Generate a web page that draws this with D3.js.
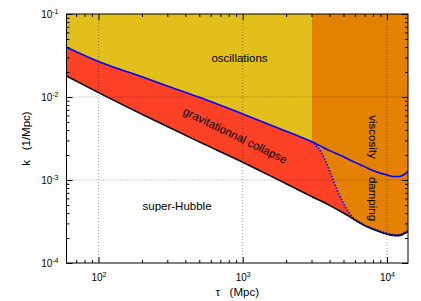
<!DOCTYPE html>
<html>
<head>
<meta charset="utf-8">
<script src="https://cdn.jsdelivr.net/npm/d3@7"></script>
<style>
body { margin: 0; background: #fff; }
svg { display: block; }
text { white-space: pre; }
</style>
</head>
<body>
<svg id="chart" width="421" height="301"></svg>
<script>
// Conformal time grid (Mpc)
var tau = [60, 100, 200, 300, 500, 1000, 2000, 2500, 3000, 3500, 4000, 5000, 6000, 7000, 8000, 9000, 10000, 11000, 12000, 13000, 14000];

// Hubble scale k = aH (black)
var kHubble = [0.0179, 0.0113, 0.0062, 0.0044, 0.00288, 0.00164, 0.00090, 0.000743, 0.000632, 0.000558, 0.000495, 0.000400, 0.000330, 0.000283, 0.000255, 0.000236, 0.000222, 0.000215, 0.000214, 0.000223, 0.000240];

// Jeans scale (blue solid)
var kJeans = [0.0397, 0.0267, 0.0175, 0.0136, 0.0099, 0.00624, 0.00387, 0.00332, 0.00291, 0.00254, 0.00226, 0.00191, 0.00163, 0.00145, 0.00130, 0.00121, 0.00115, 0.00110, 0.00110, 0.00115, 0.00126];

// Damping scale after decoupling (blue dotted)
var tauDamp = [3000, 3360, 3730, 4150, 4620, 5140, 5870, 6880, 8530, 10260, 11730, 14000];
var kDamp = [0.00291, 0.00241, 0.00174, 0.00110, 0.000692, 0.000477, 0.000346, 0.000287, 0.000250, 0.000226, 0.000218, 0.000245];

var tauDec = 3000;

// Ticks
var xMajor = [100, 1000, 10000];
var yMajor = [1e-4, 1e-3, 1e-2, 1e-1];
var xMinor = [70, 80, 90, 200, 300, 400, 500, 600, 700, 800, 900, 2000, 3000, 4000, 5000, 6000, 7000, 8000, 9000];
var yMinor = [];
[1e-4, 1e-3, 1e-2].forEach(function(d) {
    for (var m = 2; m <= 9; m++) yMinor.push(m * d);
});

var colors = {
    oscillations: "#e2bf1b",
    damping: "#e48100",
    collapse: "#fd4127"
};
var font = "'Liberation Sans', Arial, Helvetica, sans-serif";

// Layout
var svg = d3.select("#chart");
var pLeft = 66.5, pRight = 408, pTop = 14, pBottom = 263;

var x = d3.scaleLog().domain([60, 14000]).range([pLeft, pRight]);
var y = d3.scaleLog().domain([1e-4, 1e-1]).range([pBottom, pTop]);

svg.append("defs").append("clipPath").attr("id", "plot")
    .append("rect")
    .attr("x", pLeft).attr("y", pTop)
    .attr("width", pRight - pLeft).attr("height", pBottom - pTop);

var plot = svg.append("g").attr("clip-path", "url(#plot)");

// Background regions
plot.append("rect")
    .attr("x", pLeft).attr("y", pTop)
    .attr("width", x(tauDec) - pLeft).attr("height", pBottom - pTop)
    .attr("fill", colors.oscillations);

plot.append("rect")
    .attr("x", x(tauDec)).attr("y", pTop)
    .attr("width", pRight - x(tauDec)).attr("height", pBottom - pTop)
    .attr("fill", colors.damping);

var hubblePts = tau.map(function(t, i) { return [t, kHubble[i]]; });
var jeansPts = tau.map(function(t, i) { return [t, kJeans[i]]; });
var dampPts = tauDamp.map(function(t, i) { return [t, kDamp[i]]; });
var upperPts = jeansPts.filter(function(p) { return p[0] < tauDec; }).concat(dampPts);

var area = d3.area()
    .x(function(d) { return x(d[0]); })
    .y0(pBottom)
    .y1(function(d) { return y(d[1]); })
    .curve(d3.curveMonotoneX);

// collapse region under Jeans / damping scale
plot.append("path").attr("d", area(upperPts)).attr("fill", colors.collapse);
// super-Hubble region
plot.append("path").attr("d", area(hubblePts)).attr("fill", "#fff");

// Grid
plot.selectAll(".gx").data(xMajor).enter().append("line")
    .attr("x1", function(d) { return x(d); }).attr("x2", function(d) { return x(d); })
    .attr("y1", pTop).attr("y2", pBottom)
    .attr("stroke", "rgba(0,0,0,0.38)").attr("stroke-width", 1)
    .attr("stroke-dasharray", "1,2");

plot.selectAll(".gy").data([1e-3, 1e-2]).enter().append("line")
    .attr("x1", pLeft).attr("x2", pRight)
    .attr("y1", function(d) { return y(d); }).attr("y2", function(d) { return y(d); })
    .attr("stroke", "rgba(0,0,0,0.38)").attr("stroke-width", 1)
    .attr("stroke-dasharray", "1,2");

// Curves
var line = d3.line()
    .x(function(d) { return x(d[0]); })
    .y(function(d) { return y(d[1]); })
    .curve(d3.curveMonotoneX);

plot.append("path").attr("d", line(hubblePts))
    .attr("fill", "none").attr("stroke", "#000").attr("stroke-width", 1.6);

plot.append("path").attr("d", line(dampPts))
    .attr("fill", "none").attr("stroke", "#0000ff").attr("stroke-width", 1.6)
    .attr("stroke-dasharray", "1.5,1.6");

plot.append("path").attr("d", line(jeansPts))
    .attr("fill", "none").attr("stroke", "#0000ff").attr("stroke-width", 1.6);

// Region labels
function label(txt, px, py, anchor, rot) {
    svg.append("text")
        .attr("transform", "translate(" + px + "," + py + ") rotate(" + rot + ")")
        .attr("text-anchor", anchor)
        .attr("font-family", font)
        .attr("font-size", 11.5)
        .attr("fill", "#000")
        .text(txt);
}
label("oscillations", 239.5, 62, "middle", 0);
label("super-Hubble", 177, 209.5, "middle", 0);
label("gravitationnal collapse", 233.5, 139, "middle", 26);
label("viscosity", 369, 137, "middle", 90);
label("damping", 369, 199, "middle", 90);

// Axes
function minor(axis, pos) {
    svg.append("g").attr("transform", pos)
        .call(axis)
        .call(function(g) { g.select(".domain").remove(); });
}
minor(d3.axisBottom(x).tickValues(xMinor).tickSize(-3).tickFormat(""), "translate(0," + pBottom + ")");
minor(d3.axisTop(x).tickValues(xMinor).tickSize(-3).tickFormat(""), "translate(0," + pTop + ")");
minor(d3.axisLeft(y).tickValues(yMinor).tickSize(-3).tickFormat(""), "translate(" + pLeft + ",0)");
minor(d3.axisRight(y).tickValues(yMinor).tickSize(-3).tickFormat(""), "translate(" + pRight + ",0)");
minor(d3.axisTop(x).tickValues(xMajor).tickSize(-6).tickFormat(""), "translate(0," + pTop + ")");
minor(d3.axisRight(y).tickValues(yMajor).tickSize(-6).tickFormat(""), "translate(" + pRight + ",0)");

function powerLabel(sel) {
    sel.selectAll("text").each(function(d) {
        var t = d3.select(this);
        t.text("");
        t.append("tspan").text("10");
        t.append("tspan").attr("dy", -4.5).attr("font-size", 7)
            .text(Math.round(Math.log10(d)));
    });
}

var xAxis = svg.append("g").attr("transform", "translate(0," + pBottom + ")")
    .call(d3.axisBottom(x).tickValues(xMajor).tickSize(-6).tickPadding(11))
    .attr("font-family", font).attr("font-size", 10);
xAxis.select(".domain").remove();
xAxis.call(powerLabel);

var yAxis = svg.append("g").attr("transform", "translate(" + pLeft + ",0)")
    .call(d3.axisLeft(y).tickValues(yMajor).tickSize(-6).tickPadding(8))
    .attr("font-family", font).attr("font-size", 10);
yAxis.select(".domain").remove();
yAxis.selectAll("text").attr("dy", "0.38em");
yAxis.call(powerLabel);

// Frame
svg.append("rect")
    .attr("x", pLeft).attr("y", pTop)
    .attr("width", pRight - pLeft).attr("height", pBottom - pTop)
    .attr("fill", "none").attr("stroke", "#000").attr("stroke-width", 1);

// Axis titles
svg.append("text")
    .attr("x", (pLeft + pRight) / 2).attr("y", 296)
    .attr("text-anchor", "middle")
    .attr("font-family", font).attr("font-size", 11.5)
    .text("\u03c4   (Mpc)");

svg.append("text")
    .attr("transform", "translate(30," + (pTop + pBottom) / 2 + ") rotate(-90)")
    .attr("text-anchor", "middle")
    .attr("font-family", font).attr("font-size", 11.5)
    .text("k   (1/Mpc)");
</script>
</body>
</html>
